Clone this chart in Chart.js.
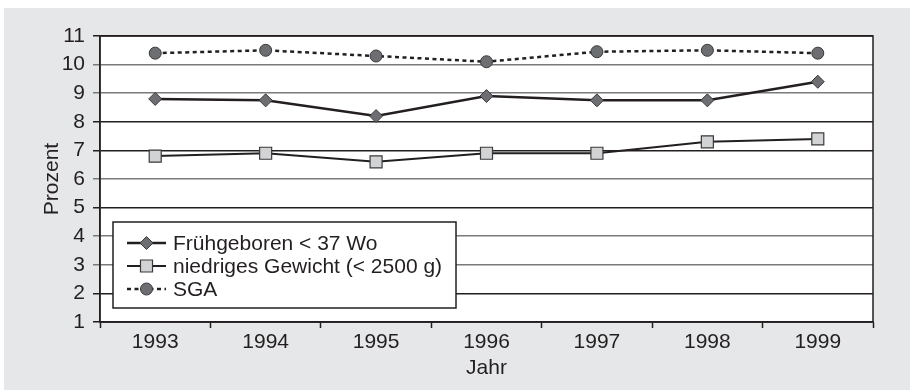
<!DOCTYPE html>
<html lang="de">
<head>
<meta charset="utf-8">
<title>Frühgeburten, niedriges Gewicht und SGA 1993–1999</title>
<script src="https://cdn.jsdelivr.net/npm/chart.js@4/dist/chart.umd.min.js"></script>
<style>
    html, body { margin: 0; padding: 0; background: #ffffff; }
    #wrap { position: relative; width: 910px; height: 390px; }
</style>
</head>
<body>
<div id="wrap"><canvas id="grafik" width="910" height="390"></canvas></div>
<script>
// --- DATEN ---
const JAHRE = ['1993', '1994', '1995', '1996', '1997', '1998', '1999'];
const FRUEHGEBOREN = [8.8, 8.75, 8.2, 8.9, 8.75, 8.75, 9.4];
const NIEDRIGES_GEWICHT = [6.8, 6.9, 6.6, 6.9, 6.9, 7.3, 7.4];
const SGA = [10.4, 10.5, 10.3, 10.1, 10.45, 10.5, 10.4];
const Y_MIN = 1;
const Y_MAX = 11;

// --- FARBEN / SCHRIFT ---
const SCHWARZ = '#231f20';
const GRAU_DUNKEL = '#6d6e71';
const GRAU_HELL = '#d1d3d4';
const HINTERGRUND = '#e6e7e8';
const SCHRIFT = "'Liberation Sans', Arial, Helvetica, sans-serif";

Chart.defaults.font.family = SCHRIFT;
Chart.defaults.font.size = 21;
Chart.defaults.color = SCHWARZ;

// grauer Rahmen hinter allem, weisse Zeichenfläche, Kasten um das Diagramm
const rahmenPlugin = {
    id: 'rahmen',
    beforeDraw(chart) {
        const { ctx, chartArea: a } = chart;
        ctx.save();
        ctx.fillStyle = HINTERGRUND;
        ctx.fillRect(4, 8, chart.width - 4, chart.height - 8);
        ctx.fillStyle = '#ffffff';
        ctx.fillRect(a.left, a.top, a.right - a.left, a.bottom - a.top);
        ctx.restore();
    },
    afterDatasetsDraw(chart) {
        const { ctx, chartArea: a } = chart;
        ctx.save();
        ctx.strokeStyle = SCHWARZ;
        ctx.lineWidth = 1.5;
        ctx.strokeRect(a.left, a.top, a.right - a.left, a.bottom - a.top);
        ctx.restore();
    }
};

// Legende im Diagramm unten links
const legendePlugin = {
    id: 'legendeInnen',
    afterDraw(chart) {
        const { ctx, chartArea: a } = chart;
        const x0 = a.left + 13, breite = 343, hoehe = 86;
        const y0 = a.bottom - 14 - hoehe;
        ctx.save();
        ctx.fillStyle = '#ffffff';
        ctx.fillRect(x0, y0, breite, hoehe);
        ctx.strokeStyle = SCHWARZ;
        ctx.lineWidth = 1.5;
        ctx.strokeRect(x0, y0, breite, hoehe);

        chart.data.datasets.forEach((ds, i) => {
            const y = y0 + 21 + i * 23;
            const lx = x0 + 14;
            ctx.save();
            ctx.strokeStyle = ds.borderColor;
            ctx.lineWidth = ds.borderWidth;
            ctx.setLineDash(ds.borderDash || []);
            ctx.beginPath();
            ctx.moveTo(lx, y);
            ctx.lineTo(lx + 39, y);
            ctx.stroke();
            ctx.restore();

            ctx.fillStyle = ds.pointBackgroundColor;
            ctx.strokeStyle = ds.pointBorderColor;
            ctx.lineWidth = ds.pointBorderWidth;
            Chart.helpers.drawPoint(ctx, {
                pointStyle: ds.pointStyle,
                radius: ds.pointRadius,
                rotation: 0,
                borderWidth: ds.pointBorderWidth
            }, lx + 19.5, y);

            ctx.fillStyle = SCHWARZ;
            ctx.font = '21px ' + SCHRIFT;
            ctx.textBaseline = 'middle';
            ctx.textAlign = 'left';
            ctx.fillText(ds.label, x0 + 60, y + 1);
        });
        ctx.restore();
    }
};

// einige Gitterlinien sind grau, der Rest schwarz
function gitterFarbe(c) {
    const v = c.tick ? c.tick.value : null;
    return [10, 9, 6, 4, 3].includes(v) ? '#7a7b7d' : SCHWARZ;
}

new Chart(document.getElementById('grafik'), {
    type: 'line',
    data: {
        labels: JAHRE,
        datasets: [
            {
                label: 'Frühgeboren < 37 Wo',
                data: FRUEHGEBOREN,
                borderColor: SCHWARZ,
                borderWidth: 2.5,
                pointStyle: 'rectRot',
                pointRadius: 6.5,
                pointHoverRadius: 6.5,
                pointBackgroundColor: GRAU_DUNKEL,
                pointBorderColor: '#3a3a3c',
                pointBorderWidth: 1,
                tension: 0
            },
            {
                label: 'niedriges Gewicht (< 2500 g)',
                data: NIEDRIGES_GEWICHT,
                borderColor: SCHWARZ,
                borderWidth: 2,
                pointStyle: 'rect',
                pointRadius: 8.5,
                pointHoverRadius: 8.5,
                pointBackgroundColor: GRAU_HELL,
                pointBorderColor: '#3a3a3c',
                pointBorderWidth: 1.2,
                tension: 0
            },
            {
                label: 'SGA',
                data: SGA,
                borderColor: SCHWARZ,
                borderWidth: 2.5,
                borderDash: [4, 3.5],
                pointStyle: 'circle',
                pointRadius: 6,
                pointHoverRadius: 6,
                pointBackgroundColor: GRAU_DUNKEL,
                pointBorderColor: '#3a3a3c',
                pointBorderWidth: 1,
                tension: 0
            }
        ]
    },
    options: {
        responsive: false,
        animation: false,
        events: [],
        layout: { padding: { left: 40, top: 36, right: 37, bottom: 9 } },
        plugins: {
            legend: { display: false },
            tooltip: { enabled: false }
        },
        scales: {
            x: {
                offset: true,
                afterFit(s) { s.height = 59; },
                grid: {
                    offset: true,
                    drawOnChartArea: false,
                    drawTicks: true,
                    tickLength: 6,
                    tickWidth: 1.5,
                    color: SCHWARZ
                },
                border: { display: true, color: SCHWARZ, width: 1.5 },
                ticks: { padding: 2, color: SCHWARZ, maxRotation: 0 },
                title: { display: true, text: 'Jahr', color: SCHWARZ, padding: 0 }
            },
            y: {
                min: Y_MIN,
                max: Y_MAX,
                afterFit(s) { s.width = 60; },
                ticks: { stepSize: 1, padding: 8, color: SCHWARZ },
                grid: {
                    color: gitterFarbe,
                    lineWidth: 1.5,
                    tickLength: 7,
                    drawTicks: true
                },
                border: { display: true, color: SCHWARZ, width: 1.5 },
                title: { display: true, text: 'Prozent', color: SCHWARZ, padding: 0 }
            }
        }
    },
    plugins: [rahmenPlugin, legendePlugin]
});
</script>
</body>
</html>
